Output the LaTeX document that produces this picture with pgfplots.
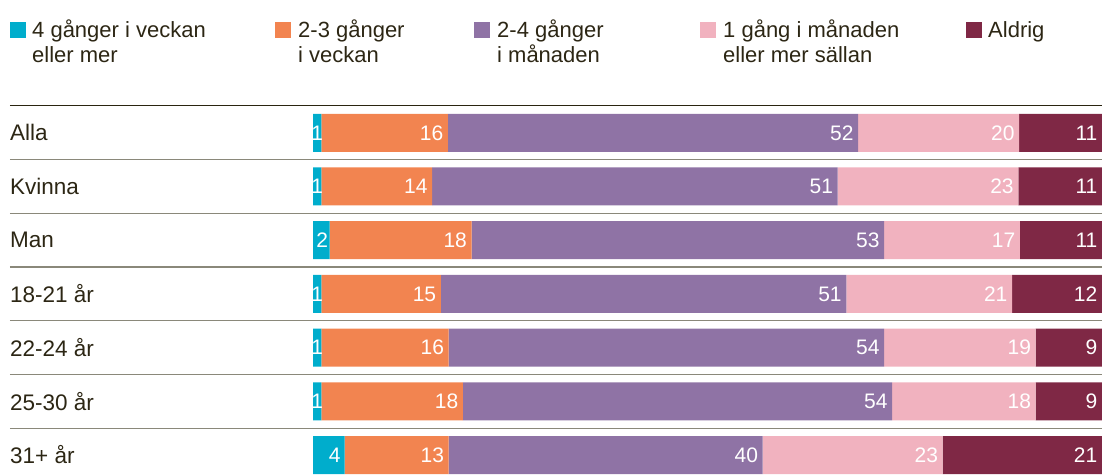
\documentclass[border=0pt]{standalone}
\usepackage{fontspec}
\setmainfont{Liberation Sans}
\usepackage{pgfplots}
\pgfplotsset{compat=1.18}
\usepackage{pgfplotstable}

\definecolor{cA}{RGB}{0,173,204}
\definecolor{cB}{RGB}{242,132,80}
\definecolor{cC}{RGB}{143,115,165}
\definecolor{cD}{RGB}{241,178,191}
\definecolor{cE}{RGB}{127,40,69}
\definecolor{txt}{RGB}{44,38,20}
\definecolor{topline}{RGB}{42,36,16}
\definecolor{sepline}{RGB}{138,136,122}

\def\extra{0}

% row: 6 = Alla (top) ... 0 = 31+ år (bottom); sa = label nudge (pt) in the narrow first segment
\pgfplotstableread{
row a la sa b lb c lc d ld e le
6 1.06 1 6.5 16.04 16 52.0 52 20.4 20 10.5 11
5 1.06 1 6.5 14.04 14 51.4 51 22.9 23 10.6 11
4 2.10 2 3.2 18.00 18 52.3 53 17.2 17 10.4 11
3 1.06 1 6.5 15.14 15 51.4 51 21.0 21 11.4 12
2 1.06 1 6.5 16.14 16 55.2 54 19.2 19 8.4 9
1 1.06 1 6.5 17.94 18 54.4 54 18.2 18 8.4 9
0 4.00 4 0.6 13.20 13 39.8 40 22.8 23 20.2 21
}\datatable

\begin{document}
\begin{tikzpicture}
\path[use as bounding box] (0,0) rectangle (1102pt,474pt);
\begin{axis}[
  at={(313pt,0pt)}, anchor=south west,
  scale only axis, width=789pt, height=368.05pt,
  xmin=0, xmax=100, ymin=-0.3538, ymax=6.5,
  xbar stacked, bar width=38pt,
  axis line style={draw=none},
  major tick length=0pt,
  xtick=\empty,
  ytick={0,1,2,3,4,5,6},
  yticklabels={31+ år,25-30 år,22-24 år,18-21 år,Man,Kvinna,Alla},
  yticklabel style={anchor=west, inner sep=0pt, xshift=-303pt, text=txt, font=\fontsize{22.5}{26}\selectfont},
  clip=false,
  nodes near coords,
  point meta=explicit symbolic,
  every node near coord/.append style={anchor=east, text=white, inner sep=0pt, xshift={\segw*3.945pt-4.5pt+\extra pt}, font=\fontsize{21}{24}\selectfont},
]
\addplot[fill=cA, draw=none, visualization depends on={\thisrow{a}\as\segw}, visualization depends on={\thisrow{sa}\as\extra}] table[x=a, y=row, meta=la] {\datatable};
\addplot[fill=cB, draw=none, visualization depends on={\thisrow{b}\as\segw}] table[x=b, y=row, meta=lb] {\datatable};
\addplot[fill=cC, draw=none, visualization depends on={\thisrow{c}\as\segw}] table[x=c, y=row, meta=lc] {\datatable};
\addplot[fill=cD, draw=none, visualization depends on={\thisrow{d}\as\segw}] table[x=d, y=row, meta=ld] {\datatable};
\addplot[fill=cE, draw=none, visualization depends on={\thisrow{e}\as\segw}] table[x=e, y=row, meta=le] {\datatable};
\draw[topline, line width=1.1pt] ([xshift=-303pt]axis cs:0,6.5) -- (axis cs:100,6.5);
\draw[sepline, line width=1.2pt] ([xshift=-303pt]axis cs:0,5.5) -- (axis cs:100,5.5);
\draw[sepline, line width=1.2pt] ([xshift=-303pt]axis cs:0,4.5) -- (axis cs:100,4.5);
\draw[sepline, line width=1.2pt] ([xshift=-303pt]axis cs:0,3.5) -- (axis cs:100,3.5);
\draw[sepline, line width=1.2pt] ([xshift=-303pt]axis cs:0,2.5) -- (axis cs:100,2.5);
\draw[sepline, line width=1.2pt] ([xshift=-303pt]axis cs:0,1.5) -- (axis cs:100,1.5);
\draw[sepline, line width=1.2pt] ([xshift=-303pt]axis cs:0,0.5) -- (axis cs:100,0.5);
\end{axis}
% legend
\begin{scope}[every node/.style={anchor=base west, inner sep=0pt, text=txt, font=\fontsize{22}{26}\selectfont}]
\fill[cA] (10pt,436.3pt) rectangle (26pt,452.3pt);
\node at (32pt,436.7pt) {4 gånger i veckan};
\node at (32pt,411pt) {eller mer};
\fill[cB] (275pt,436.3pt) rectangle (291pt,452.3pt);
\node at (298pt,436.7pt) {2-3 gånger};
\node at (298pt,411pt) {i veckan};
\fill[cC] (474pt,436.3pt) rectangle (490pt,452.3pt);
\node at (497pt,436.7pt) {2-4 gånger};
\node at (497pt,411pt) {i månaden};
\fill[cD] (700pt,436.3pt) rectangle (716pt,452.3pt);
\node at (723pt,436.7pt) {1 gång i månaden};
\node at (723pt,411pt) {eller mer sällan};
\fill[cE] (966pt,436.3pt) rectangle (982pt,452.3pt);
\node at (988pt,436.7pt) {Aldrig};
\end{scope}
\end{tikzpicture}
\end{document}
